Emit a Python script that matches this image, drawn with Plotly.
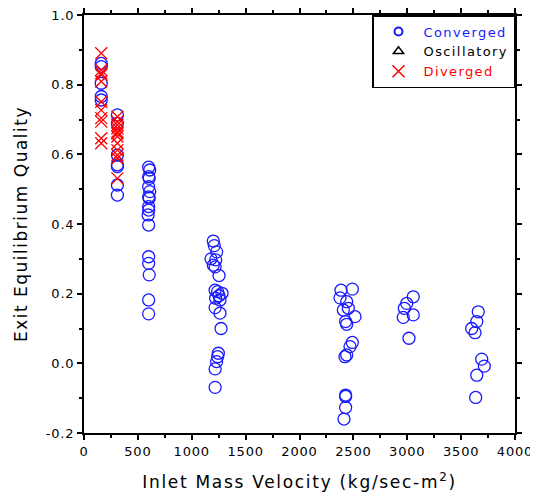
import plotly.graph_objects as go

# Converged (circles)
conv_x = [160, 160, 160, 160, 160,
          310, 310, 310, 310, 310, 310, 310,
          600, 610, 600, 605, 600, 610, 600, 605, 600, 600, 595, 600, 600, 600, 605, 600, 600,
          1200, 1209, 1231, 1179, 1222, 1200, 1217, 1253,
          1217, 1240, 1281, 1253, 1222, 1262, 1217, 1262, 1272,
          1247, 1240, 1231, 1217, 1217,
          2385, 2490, 2376, 2438, 2407, 2453, 2515, 2428, 2438,
          2490, 2469, 2438, 2422,
          2428, 2428, 2428, 2413,
          3056, 2995, 2973, 3056, 2963, 3016,
          3659, 3645, 3598, 3629, 3691, 3715, 3645, 3635]
conv_y = [0.861, 0.852, 0.804, 0.766, 0.756,
          0.713, 0.689, 0.598, 0.565, 0.512, 0.483, 0.57,
          0.563, 0.555, 0.536, 0.531, 0.507, 0.493, 0.478, 0.474, 0.45, 0.44, 0.426, 0.397, 0.306, 0.287, 0.254, 0.182, 0.142,
          0.351, 0.338, 0.32, 0.30, 0.297, 0.282, 0.277, 0.252,
          0.21, 0.206, 0.201, 0.194, 0.187, 0.182, 0.16, 0.144, 0.10,
          0.029, 0.019, 0.005, -0.016, -0.069,
          0.21, 0.213, 0.188, 0.177, 0.153, 0.158, 0.134, 0.12, 0.112,
          0.06, 0.048, 0.024, 0.019,
          -0.091, -0.095, -0.127, -0.16,
          0.191, 0.172, 0.158, 0.139, 0.132, 0.072,
          0.148, 0.12, 0.10, 0.088, 0.012, -0.008, -0.034, -0.098]

# Diverged (crosses)
div_x = [160, 160, 160, 160, 160, 160, 160, 160, 160, 160, 160,
         310, 310, 310, 310, 310, 310, 310, 310, 310, 310, 310, 310]
div_y = [0.89, 0.842, 0.833, 0.828, 0.809, 0.751, 0.727, 0.704, 0.694, 0.646, 0.632,
         0.708, 0.694, 0.684, 0.675, 0.665, 0.66, 0.651, 0.632, 0.612, 0.598, 0.589, 0.531]

# Oscillatory: no points
osc_x = []
osc_y = []

y_ticks = [-0.2, 0.0, 0.2, 0.4, 0.6, 0.8, 1.0]
y_labels = ["-0.2", "0.0", "0.2", "0.4", "0.6", "0.8", "1.0"]
x_ticks = [0, 500, 1000, 1500, 2000, 2500, 3000, 3500, 4000]
x_labels = ["0", "500", "1000", "1500", "2000", "2500", "3000", "3500", "4000"]

BLUE = "#1a1aff"
RED = "#ff0000"
FONT = "DejaVu Sans, Verdana, sans-serif"


def spaced(txt, sp, color=None):
    style = f"letter-spacing:{sp}px"
    if color:
        style += f";color:{color}"
    return f"<span style='{style}'>{txt}</span>"


fig = go.Figure()
fig.add_trace(go.Scatter(x=conv_x, y=conv_y, mode="markers", showlegend=False,
                         marker=dict(symbol="circle-open", size=12, color=BLUE, line=dict(width=1.3))))
fig.add_trace(go.Scatter(x=div_x, y=div_y, mode="markers", showlegend=False,
                         marker=dict(symbol="x-thin-open", size=12, color=RED, line=dict(width=1.3, color=RED))))
fig.add_trace(go.Scatter(x=osc_x, y=osc_y, mode="markers", showlegend=False,
                         marker=dict(symbol="triangle-up-open", size=11, color="black")))

# legend entries
fig.add_trace(go.Scatter(x=[None], y=[None], mode="markers",
                         name=spaced("Converged", 1.4, BLUE),
                         marker=dict(symbol="circle-open", size=8, color=BLUE, line=dict(width=2))))
fig.add_trace(go.Scatter(x=[None], y=[None], mode="markers",
                         name=spaced("Oscillatory", 1.4, "black"),
                         marker=dict(symbol="triangle-up-open", size=9, color="black", line=dict(width=1.5))))
fig.add_trace(go.Scatter(x=[None], y=[None], mode="markers",
                         name=spaced("Diverged", 1.4, "red"),
                         marker=dict(symbol="x-thin-open", size=12, color=RED, line=dict(width=1.5, color=RED))))

axis_common = dict(showline=True, linecolor="black", linewidth=2, mirror="ticks",
                   ticks="outside", ticklen=5, tickwidth=1.5, tickcolor="black",
                   showgrid=False, zeroline=False, automargin=False,
                   ticklabeloverflow="allow",
                   tickfont=dict(family=FONT, size=13, color="black"))

fig.update_xaxes(range=[0, 4000], tickvals=x_ticks, ticktext=[spaced(t, 0.8) for t in x_labels],
                 minor=dict(dtick=250, ticks="outside", ticklen=3, tickcolor="black", showgrid=False),
                 title=dict(text=spaced("Inlet Mass Velocity (kg/sec-m<sup>2</sup>)", 1.7),
                            font=dict(family=FONT, size=17, color="black"), standoff=20),
                 **axis_common)
fig.update_yaxes(range=[-0.2, 1.0], tickvals=y_ticks, ticktext=[spaced(t, 0.8) for t in y_labels],
                 minor=dict(dtick=0.1, tick0=0, ticks="outside", ticklen=3, tickcolor="black", showgrid=False),
                 title=dict(text=spaced("Exit Equilibrium Quality", 1.5),
                            font=dict(family=FONT, size=17, color="black"), standoff=14),
                 **axis_common)

# the page body adds an 8px margin; sizes below compensate so the plot area
# lands where the reference has it within the 538x500 window
fig.update_layout(width=530, height=484,
                  margin=dict(l=76, r=23, t=7, b=59, autoexpand=False),
                  plot_bgcolor="white", paper_bgcolor="white",
                  legend=dict(x=1, y=1, xanchor="right", yanchor="top",
                              bordercolor="black", borderwidth=1.5, bgcolor="white",
                              font=dict(family=FONT, size=13),
                              itemwidth=40, tracegroupgap=0))

fig.write_html("out.html")
